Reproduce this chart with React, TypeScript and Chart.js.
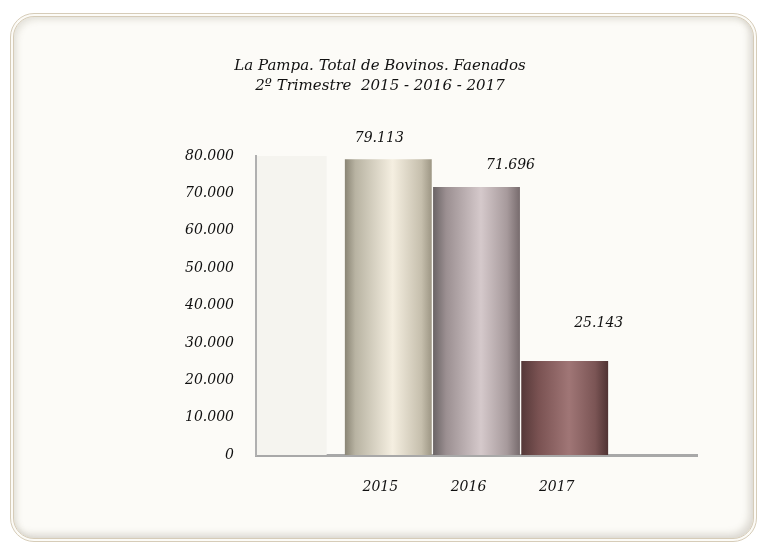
import React, { useEffect, useRef } from "react";
import { Chart, registerables } from "chart.js";

Chart.register(...registerables);

// ---- data ----
const categories = ["", "2015", "2016", "2017", ""];
const faenados: (number | null)[] = [null, 79113, 71696, 25143, null];
const yMin = 0;
const yMax = 80000;
const yStep = 10000;
const titleLines = ["La Pampa. Total de Bovinos. Faenados", "2º Trimestre  2015 - 2016 - 2017"];

// ---- style ----
const FONT = "'DejaVu Serif', serif";
const barStops: (Array<[number, string]> | null)[] = [
  null,
  [[0, "#8a8575"], [0.12, "#b8b3a2"], [0.55, "#f5efe1"], [0.88, "#c6bfad"], [1, "#9d9684"]],
  [[0, "#6a6465"], [0.15, "#9b8f91"], [0.55, "#d5c9cb"], [0.85, "#a79a9c"], [1, "#776b6d"]],
  [[0, "#553838"], [0.2, "#7a5252"], [0.55, "#a07676"], [0.85, "#7b5555"], [1, "#503333"]],
  null,
];
const labelShift: ([number, number] | null)[] = [null, [-9, -21], [34, -22], [34, -38], null];

function fmt(n: number): string {
  return String(n).replace(/\B(?=(\d{3})+(?!\d))/g, ".");
}

export default function App() {
  const ref = useRef<HTMLCanvasElement>(null);

  useEffect(() => {
    if (!ref.current) return;

    const wallPlugin = {
      id: "wall",
      beforeDatasetsDraw(chart: any) {
        const { ctx, chartArea, scales } = chart;
        const slot = scales.x.width / categories.length;
        const top = scales.y.getPixelForValue(yMax);
        const bottom = scales.y.getPixelForValue(yMin);
        ctx.save();
        ctx.fillStyle = "#f5f4ef";
        ctx.fillRect(chartArea.left + 1, top, slot * 0.79, bottom - top);
        ctx.restore();
      },
    };

    const valuePlugin = {
      id: "values",
      afterDatasetsDraw(chart: any) {
        const { ctx } = chart;
        const meta = chart.getDatasetMeta(0);
        ctx.save();
        ctx.font = `italic 14px ${FONT}`;
        ctx.fillStyle = "#111";
        ctx.textAlign = "center";
        ctx.textBaseline = "middle";
        meta.data.forEach((el: any, i: number) => {
          const v = faenados[i];
          const s = labelShift[i];
          if (v == null || !s) return;
          ctx.fillText(fmt(v), el.x + s[0], el.y + s[1]);
        });
        ctx.restore();
      },
    };

    const titlePlugin = {
      id: "titleText",
      afterDraw(chart: any) {
        const { ctx } = chart;
        ctx.save();
        ctx.font = `italic 15px ${FONT}`;
        ctx.fillStyle = "#111";
        ctx.textAlign = "center";
        ctx.textBaseline = "middle";
        titleLines.forEach((t, i) => ctx.fillText(t, 380, 66 + i * 20));
        ctx.restore();
      },
    };

    const chart = new Chart(ref.current, {
      type: "bar",
      data: {
        labels: categories,
        datasets: [
          {
            data: faenados as any,
            barPercentage: 0.985,
            categoryPercentage: 1,
            borderWidth: 0,
            backgroundColor: (c: any) => {
              const ch = c.chart;
              const stops = barStops[c.dataIndex];
              if (!stops || !ch.chartArea) return "#cccccc";
              const xs = ch.scales.x;
              const cx = xs.getPixelForValue(c.dataIndex);
              const half = ((xs.width / categories.length) * 0.985) / 2;
              const g = ch.ctx.createLinearGradient(cx - half, 0, cx + half, 0);
              stops.forEach(([o, col]) => g.addColorStop(o, col));
              return g;
            },
          },
        ],
      },
      options: {
        animation: false,
        responsive: false,
        layout: { padding: { left: 146, right: 60, top: 156, bottom: 37 } },
        plugins: {
          legend: { display: false },
          title: { display: false },
          tooltip: { enabled: false },
        },
        scales: {
          x: {
            grid: { display: false, drawTicks: false },
            border: { display: true, color: "#a8a8a8", width: 3 },
            ticks: {
              padding: 24,
              labelOffset: -8,
              color: "#111",
              font: { family: FONT, size: 14, style: "italic" },
              autoSkip: false,
              maxRotation: 0,
            },
            afterFit: (s: any) => {
              s.height = 50;
            },
          },
          y: {
            min: yMin,
            max: yMax,
            grid: { display: false, drawTicks: false },
            border: { display: true, color: "#b0b0b0", width: 2 },
            ticks: {
              stepSize: yStep,
              padding: 22,
              color: "#111",
              font: { family: FONT, size: 14, style: "italic" },
              callback: (v: any) => fmt(Number(v)),
            },
            afterFit: (s: any) => {
              s.width = 110;
            },
          },
        },
      },
      plugins: [wallPlugin, valuePlugin, titlePlugin],
    });

    return () => chart.destroy();
  }, []);

  return (
    <div style={{ position: "fixed", left: 0, top: 0, width: 757, height: 542, background: "#ffffff", overflow: "hidden" }}>
      <div
        style={{
          position: "absolute",
          left: 10,
          top: 13,
          width: 747,
          height: 529,
          boxSizing: "border-box",
          borderRadius: 24,
          border: "4px double #d6ccb8",
          background: "#fcfbf7",
          boxShadow: "inset 3px 3px 6px rgba(120,110,90,0.16), inset -4px -4px 7px rgba(120,110,90,0.22)",
        }}
      />
      <canvas ref={ref} width={757} height={542} style={{ position: "absolute", left: 0, top: 0, width: 757, height: 542 }} />
    </div>
  );
}
